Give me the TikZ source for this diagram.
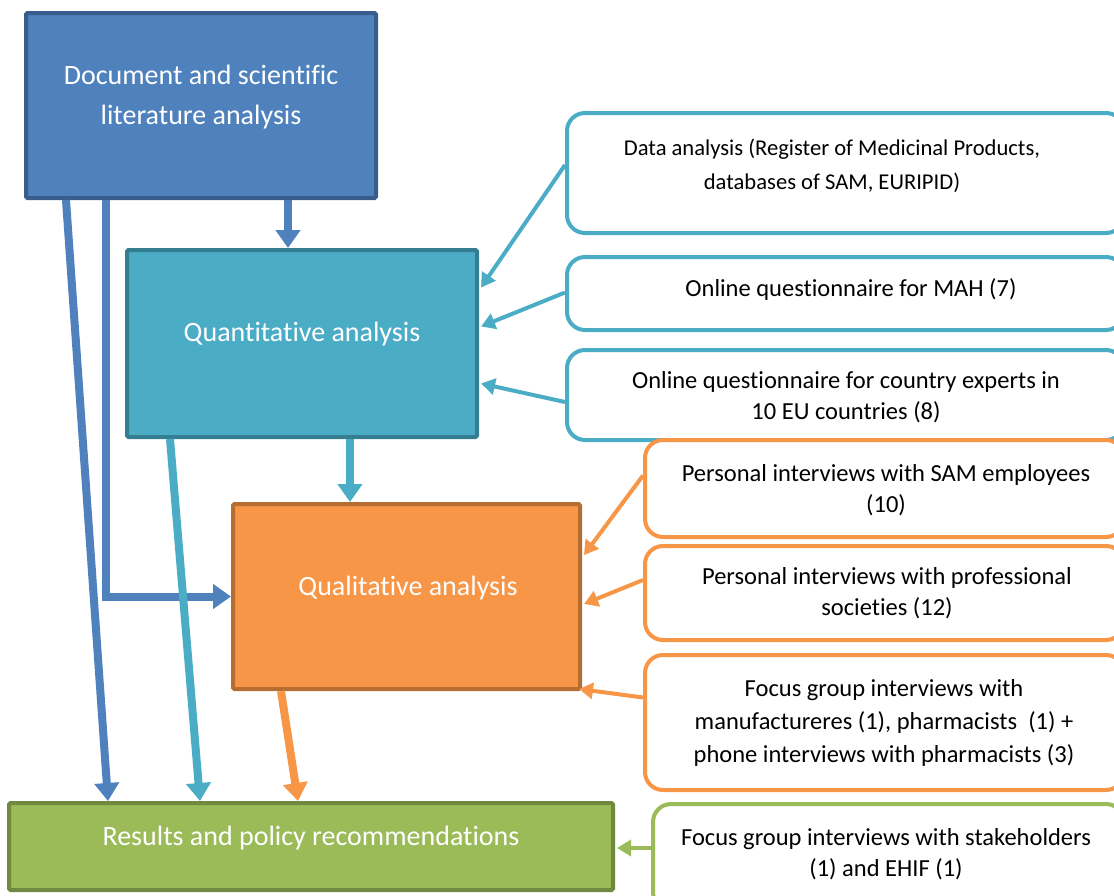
\documentclass[tikz,border=0pt]{standalone}
\usepackage{fontspec}
\setmainfont{Carlito}[Ligatures=NoCommon]
\usetikzlibrary{arrows.meta,calc}
\definecolor{cblue}{HTML}{4F81BD}
\definecolor{cblued}{HTML}{385D8A}
\definecolor{cteal}{HTML}{4BACC6}
\definecolor{cteald}{HTML}{357D91}
\definecolor{corange}{HTML}{F79646}
\definecolor{coranged}{HTML}{B66D31}
\definecolor{cgreen}{HTML}{9BBB59}
\definecolor{cgreend}{HTML}{71893F}
\begin{document}
\begin{tikzpicture}[x=1pt,y=-1pt,
  mainbox/.style={draw, line width=4pt, inner sep=0pt, rounded corners=1.5pt},
  sidebox/.style={draw, fill=white, line width=4pt, rounded corners=18pt, inner sep=0pt},
  bigtext/.style={text=white, font=\fontsize{28}{40}\selectfont, align=center},
  smalltext/.style={text=black, font=\fontsize{24.5}{31}\selectfont, align=center},
  bigarrow/.style={line width=8pt, -{Triangle[width=24pt,length=18pt]}},
  smallarrow/.style={line width=4pt, -{Triangle[width=16pt,length=14pt]}}]
\useasboundingbox (0,0) rectangle (1114,895);

% main boxes
\node[mainbox, fill=cblue, draw=cblued, minimum width=350pt, minimum height=185pt] (doc) at (201,105.5) {};
\node[mainbox, fill=cteal, draw=cteald, minimum width=350pt, minimum height=187pt] (quant) at (302,343.5) {};
\node[mainbox, fill=corange, draw=coranged, minimum width=347pt, minimum height=185pt] (qual) at (406.5,596.5) {};
\node[mainbox, fill=cgreen, draw=cgreend, minimum width=604pt, minimum height=87pt] (res) at (311,846.5) {};

\node[bigtext] (doct) at (201,97) {Document and scientific\\literature analysis};
\node[bigtext] (quantt) at (302,334) {Quantitative analysis};
\node[bigtext] (qualt) at (408,588) {Qualitative analysis};
\node[bigtext] (rest) at (311,838) {Results and policy recommendations};

% side boxes
\node[sidebox, draw=cteal, minimum width=557pt, minimum height=120pt] (data) at (845.5,173) {};
\node[sidebox, draw=cteal, minimum width=557pt, minimum height=73pt] (mah) at (845.5,293.5) {};
\node[sidebox, draw=cteal, minimum width=557pt, minimum height=90pt] (ctry) at (845.5,395) {};
\node[sidebox, draw=corange, minimum width=479pt, minimum height=97pt] (sam) at (884.5,488.5) {};
\node[sidebox, draw=corange, minimum width=479pt, minimum height=94pt] (prof) at (884.5,593) {};
\node[sidebox, draw=corange, minimum width=479pt, minimum height=135pt] (focus) at (884.5,722.5) {};
\node[sidebox, draw=cgreen, minimum width=471pt, minimum height=106pt] (stake) at (888.5,857) {};

\node[smalltext, font=\fontsize{22.6}{34}\selectfont] (datat) at (832,166) {Data analysis (Register of Medicinal Products,\\databases of SAM, EURIPID)};
\node[smalltext] (maht) at (851,290) {Online questionnaire for MAH (7)};
\node[smalltext] (ctryt) at (846,397) {Online questionnaire for country experts in\\10 EU countries (8)};
\node[smalltext] (samt) at (886,490) {Personal interviews with SAM employees\\(10)};
\node[smalltext] (proft) at (887,593) {Personal interviews with professional\\societies (12)};
\node[smalltext, font=\fontsize{24.5}{33}\selectfont] (focust) at (884,723) {Focus group interviews with\\manufactureres (1), pharmacists\ \ (1) +\\phone interviews with pharmacists (3)};
\node[smalltext] (staket) at (886,854) {Focus group interviews with stakeholders\\(1) and EHIF (1)};

% main arrows
\draw[bigarrow, cblue] ($(doc.south)+(87,0)$) -- ($(quant.north)+(-14,0)$);
\draw[bigarrow, cblue] ($(doc.south west)+(42,0)$) -- ($(res.north west)+(101,0)$);
\draw[bigarrow, cblue] ($(doc.south west)+(82,0)$) |- (qual.west);
\draw[bigarrow, cteal] ($(quant.south)+(48,0)$) -- ($(qual.north)+(-56.5,0)$);
\draw[bigarrow, cteal] ($(quant.south west)+(45,0)$) -- ($(res.north west)+(193,0)$);
\draw[bigarrow, corange] ($(qual.south west)+(50,0)$) -- ($(res.north west)+(291,0)$);

% side arrows
\draw[smallarrow, cteal] ($(data.west)+(0,-8)$) -- ($(quant.east)+(2,-56)$);
\draw[smallarrow, cteal] ($(mah.west)+(0,-1)$) -- ($(quant.east)+(2,-17)$);
\draw[smallarrow, cteal] ($(ctry.west)+(0,7)$) -- ($(quant.east)+(2,40)$);
\draw[smallarrow, corange] ($(sam.west)+(0,-13)$) -- ($(qual.east)+(2,-41.5)$);
\draw[smallarrow, corange] ($(prof.west)+(0,-13)$) -- ($(qual.east)+(2,7.5)$);
\draw[smallarrow, corange] ($(focus.west)+(0,-25)$) -- ($(qual.south east)+(-3,-2)$);
\draw[smallarrow, cgreen] ($(stake.west)+(0,-9)$) -- ($(res.east)+(2,1.5)$);
\end{tikzpicture}
\end{document}
